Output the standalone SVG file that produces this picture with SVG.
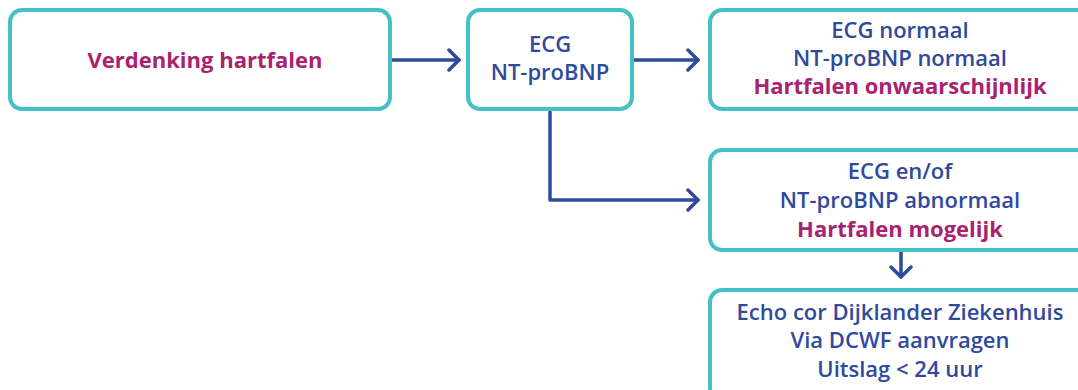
<svg xmlns="http://www.w3.org/2000/svg" width="1078" height="390" viewBox="0 0 1078 390">
<style>
.box{fill:#fff;stroke:#45C0C5;stroke-width:4}
.t{font-family:"Open Sans",Lato,sans-serif;font-size:22px;text-anchor:middle;fill:#2F4A9C;font-weight:600}
.m{fill:#A8236F;font-weight:700}
.c{fill:none;stroke:#2F4A9C;stroke-width:3.5;stroke-linecap:round;stroke-linejoin:round}
</style>
<defs>
<marker id="ah" viewBox="0 0 14 24" refX="12" refY="12" markerWidth="14" markerHeight="24" markerUnits="userSpaceOnUse" orient="auto">
<path d="M2,2 L12,12 L2,22" fill="none" stroke="#2F4A9C" stroke-width="3.5" stroke-linecap="round" stroke-linejoin="round"/>
</marker>
</defs>
<g id="connectors">
<path class="c" d="M390,60 H459" marker-end="url(#ah)"/>
<path class="c" d="M632,60 H698" marker-end="url(#ah)"/>
<path class="c" d="M550,112 V200 H698" marker-end="url(#ah)"/>
<path class="c" d="M901,252 V277" marker-end="url(#ah)"/>
</g>
<g id="n1">
<rect class="box" x="10" y="10" width="380" height="99" rx="12"/>
<text class="t m" x="205" y="68">Verdenking hartfalen</text>
</g>
<g id="n2">
<rect class="box" x="468" y="10" width="164" height="99" rx="12"/>
<text class="t" x="550" y="52">ECG</text>
<text class="t" x="550" y="80">NT-proBNP</text>
</g>
<g id="n3">
<rect class="box" x="710" y="10" width="380" height="99" rx="12"/>
<text class="t" x="900" y="38">ECG normaal</text>
<text class="t" x="900" y="66">NT-proBNP normaal</text>
<text class="t m" x="900" y="94">Hartfalen onwaarschijnlijk</text>
</g>
<g id="n4">
<rect class="box" x="710" y="150" width="380" height="100" rx="12"/>
<text class="t" x="900" y="179">ECG en/of</text>
<text class="t" x="900" y="208">NT-proBNP abnormaal</text>
<text class="t m" x="900" y="237">Hartfalen mogelijk</text>
</g>
<g id="n5">
<rect class="box" x="710" y="290" width="380" height="110" rx="12"/>
<text class="t" x="900" y="320">Echo cor Dijklander Ziekenhuis</text>
<text class="t" x="900" y="348">Via DCWF aanvragen</text>
<text class="t" x="900" y="377">Uitslag &lt; 24 uur</text>
</g>
</svg>
